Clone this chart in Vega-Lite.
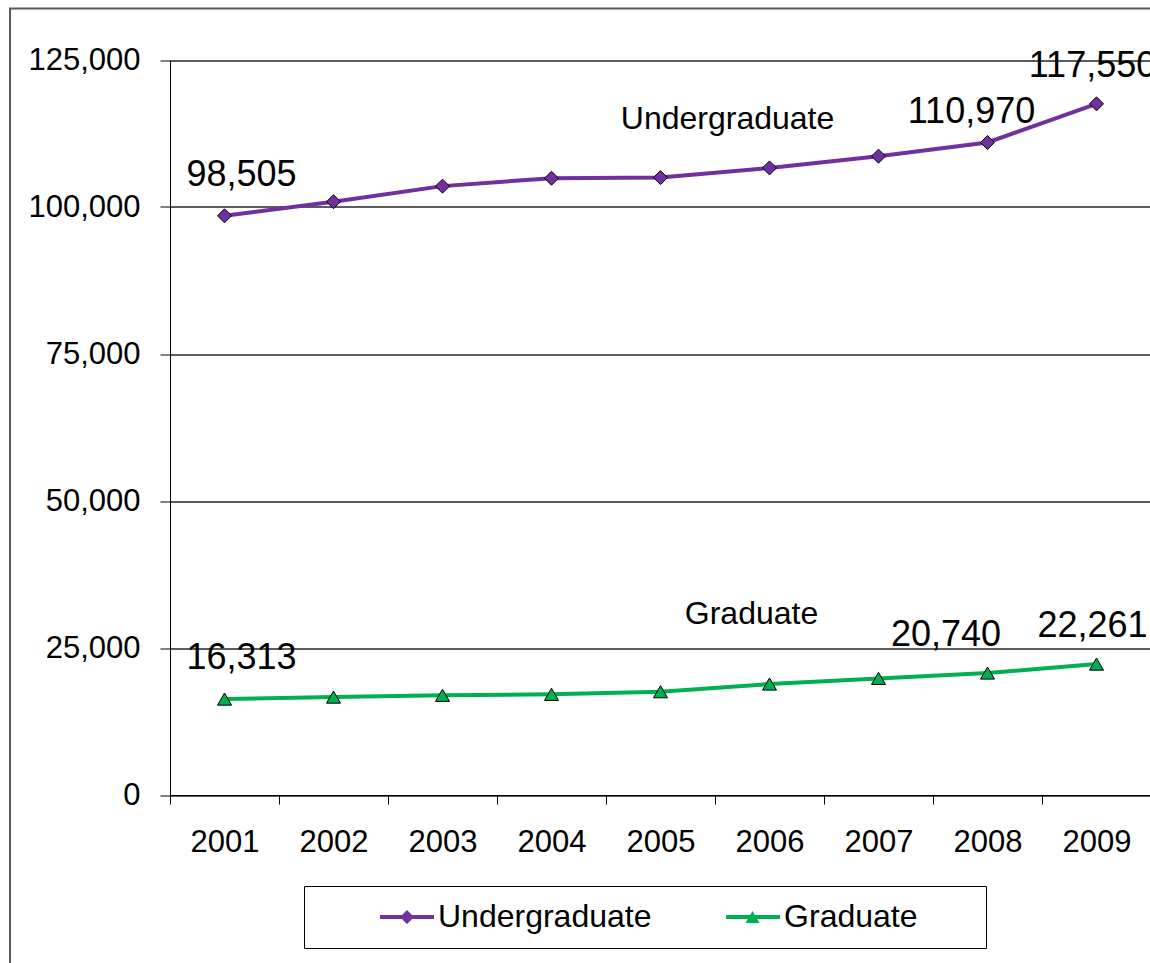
{
  "$schema": "https://vega.github.io/schema/vega-lite/v6.json",
  "width": 1150,
  "height": 960,
  "autosize": {"type": "none"},
  "padding": {"left": 10, "top": 8.5, "right": 0, "bottom": 0},
  "background": "white",
  "config": {
    "view": {"stroke": "#595959", "strokeWidth": 2},
    "font": "Liberation Sans",
    "axis": {"labelFont": "Liberation Sans", "labelColor": "black", "domainColor": "black", "tickColor": "black", "domainWidth": 1, "tickWidth": 1}
  },
  "data": {
    "values": [
      {"year": "2001", "series": "Undergraduate", "value": 98505},
      {"year": "2002", "series": "Undergraduate", "value": 100900},
      {"year": "2003", "series": "Undergraduate", "value": 103550},
      {"year": "2004", "series": "Undergraduate", "value": 104900},
      {"year": "2005", "series": "Undergraduate", "value": 105000},
      {"year": "2006", "series": "Undergraduate", "value": 106650},
      {"year": "2007", "series": "Undergraduate", "value": 108650},
      {"year": "2008", "series": "Undergraduate", "value": 110970},
      {"year": "2009", "series": "Undergraduate", "value": 117550},
      {"year": "2001", "series": "Graduate", "value": 16313},
      {"year": "2002", "series": "Graduate", "value": 16650},
      {"year": "2003", "series": "Graduate", "value": 16950},
      {"year": "2004", "series": "Graduate", "value": 17120},
      {"year": "2005", "series": "Graduate", "value": 17560},
      {"year": "2006", "series": "Graduate", "value": 18870},
      {"year": "2007", "series": "Graduate", "value": 19830},
      {"year": "2008", "series": "Graduate", "value": 20740},
      {"year": "2009", "series": "Graduate", "value": 22261}
    ]
  },
  "encoding": {
    "x": {
      "field": "year", "type": "ordinal",
      "scale": {"type": "band", "range": [160, 1141], "paddingInner": 0, "paddingOuter": 0},
      "axis": {"title": null, "orient": "bottom", "offset": -173.5, "tickBand": "extent", "tickSize": 9, "labelPadding": 23.5, "labelAngle": 0, "labelFontSize": 31, "grid": false}
    },
    "y": {
      "field": "value", "type": "quantitative",
      "scale": {"domain": [0, 125000], "range": [786.5, 51.5], "nice": false},
      "axis": {"title": null, "orient": "left", "offset": -160, "values": [0, 25000, 50000, 75000, 100000, 125000], "format": ",.0f", "tickSize": 10, "labelPadding": 20, "labelFontSize": 31, "grid": true, "gridColor": "#262626", "gridWidth": 1.6, "gridOpacity": 1}
    }
  },
  "layer": [
    {
      "mark": {"type": "line", "strokeWidth": 4},
      "encoding": {
        "stroke": {
          "field": "series", "type": "nominal", "sort": "descending",
          "scale": {"range": ["#7030A0", "#00B050"]},
          "legend": {
            "orient": "none", "legendX": 294, "legendY": 877.5, "direction": "horizontal", "zindex": 0,
            "title": " ", "titleOrient": "right", "titleFontSize": 32, "titlePadding": 53, "titleFont": "Liberation Sans",
            "strokeColor": "black", "padding": 15,
            "symbolType": "M-2.7,0L2.7,0", "symbolSize": 400, "symbolStrokeWidth": 4, "symbolOffset": 72,
            "labelFontSize": 32, "labelFont": "Liberation Sans", "labelColor": "black", "labelOffset": 15, "labelLimit": 600,
            "columnPadding": 13.1
          }
        }
      }
    },
    {
      "mark": {"type": "point", "filled": true, "size": 196, "stroke": "black", "strokeWidth": 1, "opacity": 1},
      "encoding": {
        "fill": {
          "field": "series", "type": "nominal",
          "scale": {"domain": ["Undergraduate", "Graduate"], "range": ["#7030A0", "#00B050"]},
          "legend": {
            "orient": "none", "legendX": 294, "legendY": 877.5, "direction": "horizontal", "zindex": 1,
            "title": " ", "titleOrient": "right", "titleFontSize": 32, "titlePadding": 53, "titleFont": "Liberation Sans",
            "padding": 15,
            "symbolSize": 196, "symbolStrokeWidth": 1, "symbolStrokeColor": "black", "symbolOffset": 72,
            "labelFontSize": 32, "labelFont": "Liberation Sans", "labelOffset": 15, "labelLimit": 600,
            "labelExpr": "''",
            "columnPadding": 226.5
          }
        },
        "shape": {
          "field": "series", "type": "nominal",
          "scale": {"domain": ["Undergraduate", "Graduate"], "range": ["M-4.07,0L-4.07,0M4.07,0L4.07,0M0,-1L1,0L0,1L-1,0Z", "M-4.07,0L-4.07,0M4.07,0L4.07,0M0,-0.866L1,0.866L-1,0.866Z"]},
          "legend": {
            "orient": "none", "legendX": 294, "legendY": 877.5, "direction": "horizontal", "zindex": 1,
            "title": " ", "titleOrient": "right", "titleFontSize": 32, "titlePadding": 53, "titleFont": "Liberation Sans",
            "padding": 15,
            "symbolSize": 196, "symbolStrokeWidth": 1, "symbolStrokeColor": "black", "symbolOffset": 72,
            "labelFontSize": 32, "labelFont": "Liberation Sans", "labelOffset": 15, "labelLimit": 600,
            "labelExpr": "''",
            "columnPadding": 226.5
          }
        }
      }
    },
    {
      "transform": [{"filter": "datum.year == '2001'"}],
      "mark": {"type": "text", "fontSize": 36, "font": "Liberation Sans", "color": "black", "align": "center", "baseline": "alphabetic", "dx": 17, "dy": -30},
      "encoding": {"text": {"field": "value", "type": "quantitative", "format": ","}}
    },
    {
      "transform": [{"filter": "datum.year == '2008' && datum.series == 'Undergraduate'"}],
      "mark": {"type": "text", "fontSize": 36, "font": "Liberation Sans", "color": "black", "align": "center", "baseline": "alphabetic", "dx": -16, "dy": -19.5},
      "encoding": {"text": {"field": "value", "type": "quantitative", "format": ","}}
    },
    {
      "transform": [{"filter": "datum.year == '2008' && datum.series == 'Graduate'"}],
      "mark": {"type": "text", "fontSize": 36, "font": "Liberation Sans", "color": "black", "align": "center", "baseline": "alphabetic", "dx": -41.5, "dy": -27},
      "encoding": {"text": {"field": "value", "type": "quantitative", "format": ","}}
    },
    {
      "transform": [{"filter": "datum.year == '2009'"}],
      "mark": {"type": "text", "fontSize": 36, "font": "Liberation Sans", "color": "black", "align": "center", "baseline": "alphabetic", "dx": -4, "dy": -27},
      "encoding": {"text": {"field": "value", "type": "quantitative", "format": ","}}
    },
    {
      "transform": [{"filter": "datum.year == '2006' && datum.series == 'Undergraduate'"}],
      "mark": {"type": "text", "fontSize": 32, "font": "Liberation Sans", "color": "black", "align": "center", "baseline": "alphabetic", "dx": -42, "dy": -38.6},
      "encoding": {"text": {"field": "series", "type": "nominal"}}
    },
    {
      "transform": [{"filter": "datum.year == '2006' && datum.series == 'Graduate'"}],
      "mark": {"type": "text", "fontSize": 32, "font": "Liberation Sans", "color": "black", "align": "center", "baseline": "alphabetic", "dx": -18, "dy": -60},
      "encoding": {"text": {"field": "series", "type": "nominal"}}
    }
  ]
}
